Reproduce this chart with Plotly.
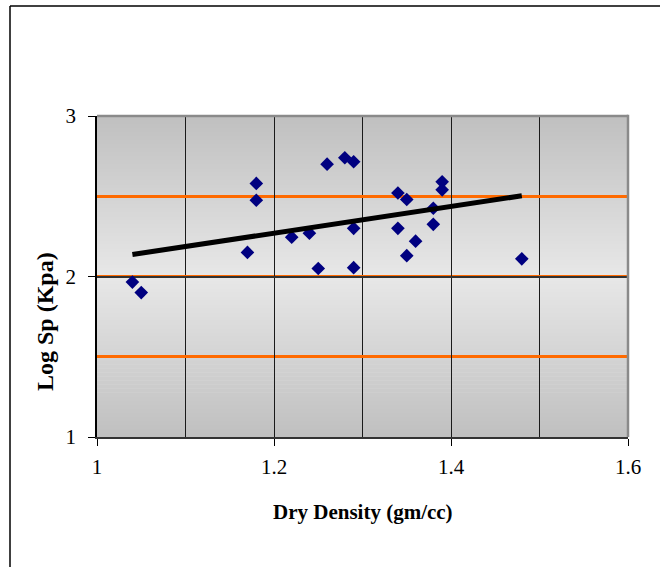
import plotly.graph_objects as go

# Data
dry_density = [1.04, 1.05, 1.17, 1.18, 1.18, 1.22, 1.24, 1.25, 1.26, 1.28, 1.29, 1.29,
               1.29, 1.34, 1.35, 1.34, 1.35, 1.36, 1.38, 1.38, 1.39, 1.39, 1.48]
log_sp = [1.965, 1.90, 2.15, 2.58, 2.475, 2.245, 2.27, 2.05, 2.70, 2.74, 2.715, 2.30,
          2.055, 2.52, 2.48, 2.30, 2.13, 2.22, 2.425, 2.325, 2.59, 2.54, 2.11]
trend_x = [1.04, 1.48]
trend_y = [2.137, 2.503]

x_ticks = [1, 1.2, 1.4, 1.6]
x_tick_text = ["1", "1.2", "1.4", "1.6"]
y_ticks = [1, 2, 3]
y_tick_text = ["1", "2", "3"]

W, H = 660, 567
L, R, T, B = 97, 628, 116, 437  # plot-area pixel edges


def px(xp):
    return (xp - L) / (R - L)


def py(yp):
    return (B - yp) / (B - T)


fig = go.Figure()
fig.add_trace(go.Scatter(x=dry_density, y=log_sp, mode="markers",
                         marker=dict(symbol="diamond", size=10.5, color="#000080",
                                     line=dict(width=0)),
                         showlegend=False, hoverinfo="x+y"))
fig.add_trace(go.Scatter(x=trend_x, y=trend_y, mode="lines",
                         line=dict(color="black", width=5),
                         showlegend=False, hoverinfo="skip"))

shapes = []
# vertical gradient background of the plot area
n = 80
for i in range(n):
    t = (i + 0.5) / n
    v = int(round(192 + (231 - 192) * (1 - abs(2 * t - 1))))
    col = f"rgb({v},{v},{v})"
    shapes.append(dict(type="rect", xref="x domain", yref="y domain",
                       x0=0, x1=1, y0=i / n, y1=(i + 1) / n + 0.002,
                       fillcolor=col, line=dict(width=0), layer="below"))
# plot area top / right gray border
shapes.append(dict(type="line", xref="x domain", yref="y domain", x0=0, x1=1.0,
                   y0=1, y1=1, line=dict(color="#8a8a8a", width=2.5), layer="above"))
shapes.append(dict(type="line", xref="x domain", yref="y domain", x0=1, x1=1,
                   y0=0, y1=1.004, line=dict(color="#8a8a8a", width=2.5), layer="above"))
# outer chart border (top and left)
shapes.append(dict(type="line", xref="paper", yref="paper", x0=px(10), x1=px(720),
                   y0=py(6), y1=py(6), line=dict(color="#404040", width=2)))
shapes.append(dict(type="line", xref="paper", yref="paper", x0=px(10), x1=px(10),
                   y0=py(6), y1=py(620), line=dict(color="#000000", width=1.5)))

serif = "Liberation Serif, Times New Roman, serif"

fig.update_layout(
    width=W, height=H,
    margin=dict(l=L, r=W - R, t=T, b=H - B),
    paper_bgcolor="white", plot_bgcolor="rgba(0,0,0,0)",
    font=dict(family=serif, size=21, color="black"),
    shapes=shapes,
    xaxis=dict(range=[1, 1.6], tickvals=x_ticks, ticktext=x_tick_text,
               showgrid=True, gridcolor="#1a1a1a", gridwidth=1,
               minor=dict(dtick=0.1, tick0=1, showgrid=True, gridcolor="#1a1a1a",
                          gridwidth=1, ticks=""),
               showline=True, linecolor="#333333", linewidth=2,
               ticks="outside", ticklen=7, tickcolor="black", tickwidth=1,
               ticklabelstandoff=3, zeroline=False, fixedrange=True),
    yaxis=dict(range=[1, 3], tickvals=y_ticks, ticktext=y_tick_text,
               showgrid=True, gridcolor="#333333", gridwidth=1.5,
               minor=dict(dtick=0.5, tick0=1, showgrid=True, gridcolor="#ff6a00",
                          gridwidth=2.5, ticks=""),
               showline=True, linecolor="black", linewidth=1.5,
               ticks="outside", ticklen=7, tickcolor="black", tickwidth=1,
               ticklabelstandoff=8, zeroline=False, fixedrange=True),
    annotations=[
        dict(text="<b>Dry Density (gm/cc)</b>", xref="paper", yref="paper",
             x=px(363), y=py(512), xanchor="center", yanchor="middle",
             showarrow=False, font=dict(family=serif, size=21, color="black")),
        dict(text="<b>Log Sp (Kpa)</b>", xref="paper", yref="paper",
             x=px(45), y=py(322), xanchor="center", yanchor="middle", textangle=-90,
             showarrow=False, font=dict(family=serif, size=24, color="black")),
    ],
)

fig.write_html("out.html", config={"displayModeBar": False},
               post_script="document.body.style.margin='0';document.body.style.padding='0';")
